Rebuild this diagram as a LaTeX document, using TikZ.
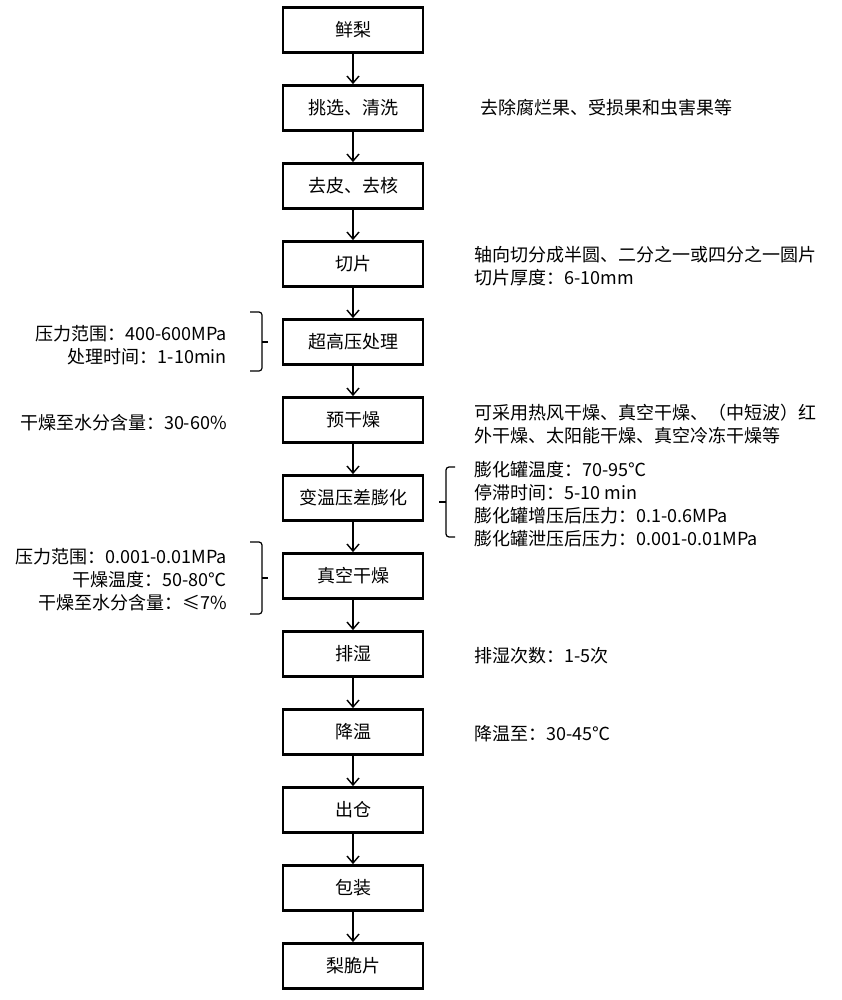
\documentclass[tikz,border=0pt]{standalone}
\usepackage{fontspec}
\setmainfont{Noto Sans CJK SC}
\usetikzlibrary{arrows.meta}
\tikzset{
	stepbox/.style={draw,line width=2.8pt,minimum width=140pt,minimum height=45pt,font=\fontsize{18}{20}\selectfont},
	note/.style={font=\fontsize{18}{23}\selectfont,inner sep=0pt},
	flow/.style={line width=1.4pt,-{Straight Barb[length=7pt,width=12pt,line width=1.4pt]}},
	brace/.style={line width=1.2pt,rounded corners=3pt}
}
\begin{document}
\begin{tikzpicture}[x=1pt,y=-1pt]
	\useasboundingbox (0,0) rectangle (842,1000);
	        \node[stepbox] at (353,30)  (pear) {鲜梨};
	        \node[stepbox] at (353,108) (wash) {挑选、清洗};
	        \node[stepbox] at (353,186) (peel) {去皮、去核};
	        \node[stepbox] at (353,264) (slice) {切片};
	        \node[stepbox] at (353,342) (hpp) {超高压处理};
	        \node[stepbox] at (353,420) (predry) {预干燥};
	        \node[stepbox] at (353,498) (puff) {变温压差膨化};
	        \node[stepbox] at (353,576) (vacdry) {真空干燥};
	        \node[stepbox] at (353,654) (vent) {排湿};
	        \node[stepbox] at (353,732) (cool) {降温};
	        \node[stepbox] at (353,810) (out) {出仓};
	        \node[stepbox] at (353,888) (pack) {包装};
	        \node[stepbox] at (353,966) (chips) {梨脆片};

			\draw[flow] (pear) -- (wash);
			\draw[flow] (wash) -- (peel);
			\draw[flow] (peel) -- (slice);
			\draw[flow] (slice) -- (hpp);
			\draw[flow] (hpp) -- (predry);
			\draw[flow] (predry) -- (puff);
			\draw[flow] (puff) -- (vacdry);
			\draw[flow] (vacdry) -- (vent);
			\draw[flow] (vent) -- (cool);
			\draw[flow] (cool) -- (out);
			\draw[flow] (out) -- (pack);
			\draw[flow] (pack) -- (chips);

		% notes on the right
		\node[note,anchor=west] at (480,108) (washnote) {去除腐烂果、受损果和虫害果等};
		\node[note,anchor=west,align=left] at (474,266) (slicenote) {轴向切分成半圆、二分之一或四分之一圆片\\切片厚度：6-10mm};
		\node[note,anchor=west,align=left] at (474,424) (predrynote) {可采用热风干燥、真空干燥、（中短波）红\\外干燥、太阳能干燥、真空冷冻干燥等};
		\node[note,anchor=west,align=left] at (474,504) (puffnote) {膨化罐温度：70-95℃\\停滞时间：5-10 min\\膨化罐增压后压力：0.1-0.6MPa\\膨化罐泄压后压力：0.001-0.01MPa};
		\node[note,anchor=west] at (474,656) (ventnote) {排湿次数：1-5次};
		\node[note,anchor=west] at (474,734) (coolnote) {降温至：30-45℃};

		% notes on the left
		\node[note,anchor=east,align=right] at (227,345) (hppnote) {压力范围：400-600MPa\\处理时间：1-10min};
		\node[note,anchor=east] at (227,423) (predryleft) {干燥至水分含量：30-60\%};
		\node[note,anchor=east,align=right] at (227,580) (vacnote) {压力范围：0.001-0.01MPa\\干燥温度：50-80℃\\干燥至水分含量：≤7\%};

		% brackets
		\draw[brace] (250,312) -- (262,312) -- (262,371) -- (250,371);
		\draw[line width=1.2pt] (262,342) -- (268,342);
		\draw[brace] (455,467) -- (446,467) -- (446,537) -- (455,537);
		\draw[line width=1.2pt] (446,502) -- (439,502);
		\draw[brace] (250,542) -- (262,542) -- (262,614) -- (250,614);
		\draw[line width=1.2pt] (262,578) -- (268,578);
\end{tikzpicture}
\end{document}
